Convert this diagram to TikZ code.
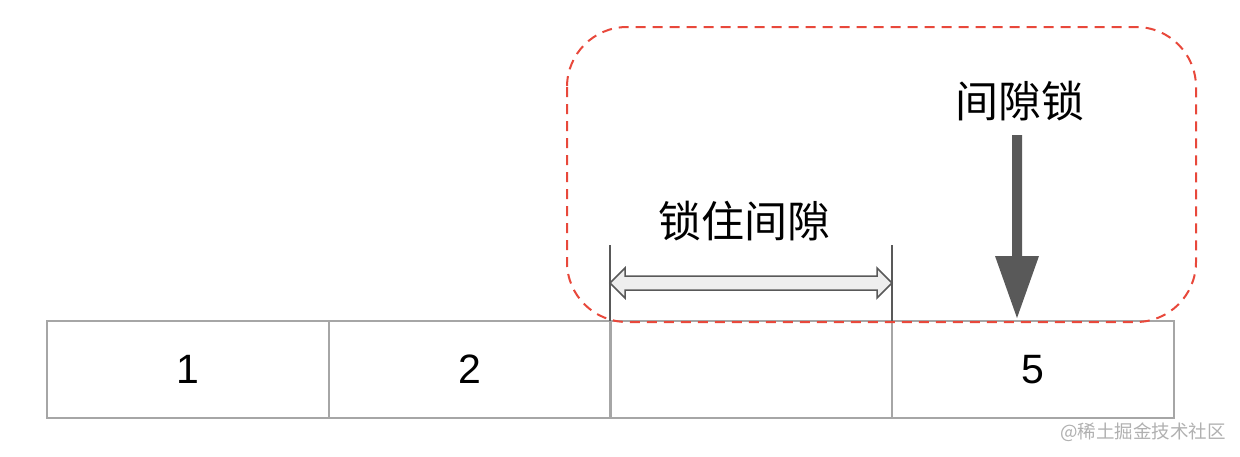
\documentclass[tikz,border=0pt]{standalone}
\usepackage{fontspec}
\setmainfont{Liberation Sans}
\newfontfamily\cjk{Noto Sans CJK SC}
\definecolor{boxgray}{HTML}{A6A6A6}
\definecolor{arrgray}{HTML}{595959}
\definecolor{lightfill}{HTML}{EEEEEE}
\definecolor{dashred}{HTML}{E8483B}
\definecolor{wmgray}{HTML}{B0B0B0}
\begin{document}
\begin{tikzpicture}[x=1pt,y=-1pt,
  cell/.style={draw=boxgray,line width=2pt,minimum width=282pt,minimum height=97pt,inner sep=0pt,outer sep=0pt,font=\fontsize{41}{44}\selectfont,anchor=north west},
  cjklabel/.style={font=\cjk\fontsize{43}{46}\selectfont,inner sep=0pt},
  tick/.style={draw=arrgray,line width=1.3pt}]
\useasboundingbox (0,0) rectangle (1240,456);
\node[cell] (c1) at (47,321) {1};
\node[cell] (c2) at (329,321) {2};
\node[cell] (c3) at (610,321) {};
\node[cell] (c4) at (892,321) {5};
% dashed region
\draw[dashred,line width=2pt,dash pattern=on 10pt off 7pt,rounded corners=60pt] (567,27) rectangle (1196,322);
% ticks
\coordinate (tl) at (610,245);
\coordinate (tr) at (892,245);
\draw[tick] (tl) -- (tl |- c3.north);
\draw[tick] (tr) -- (tr |- c3.north);
% double arrow
\draw[arrgray,fill=lightfill,line width=1.5pt,line join=miter]
  (610,283) -- (625,268) -- (625,276) -- (877,276) -- (877,268) -- (892,283)
  -- (877,298) -- (877,290) -- (625,290) -- (625,298) -- cycle;
\node[cjklabel] (lab1) at (744,221) {锁住间隙};
\node[cjklabel] (lab2) at (1020,101) {间隙锁};
% down arrow
\fill[arrgray] (1012,135) -- (1022,135) -- (1022,256) -- (1039,256) -- (1017,318) -- (995,256) -- (1012,256) -- cycle;
\node[font=\cjk\fontsize{18.5}{20}\selectfont,text=wmgray,anchor=east,inner sep=0pt] (wm) at (1226,432) {@稀土掘金技术社区};
\end{tikzpicture}
\end{document}
